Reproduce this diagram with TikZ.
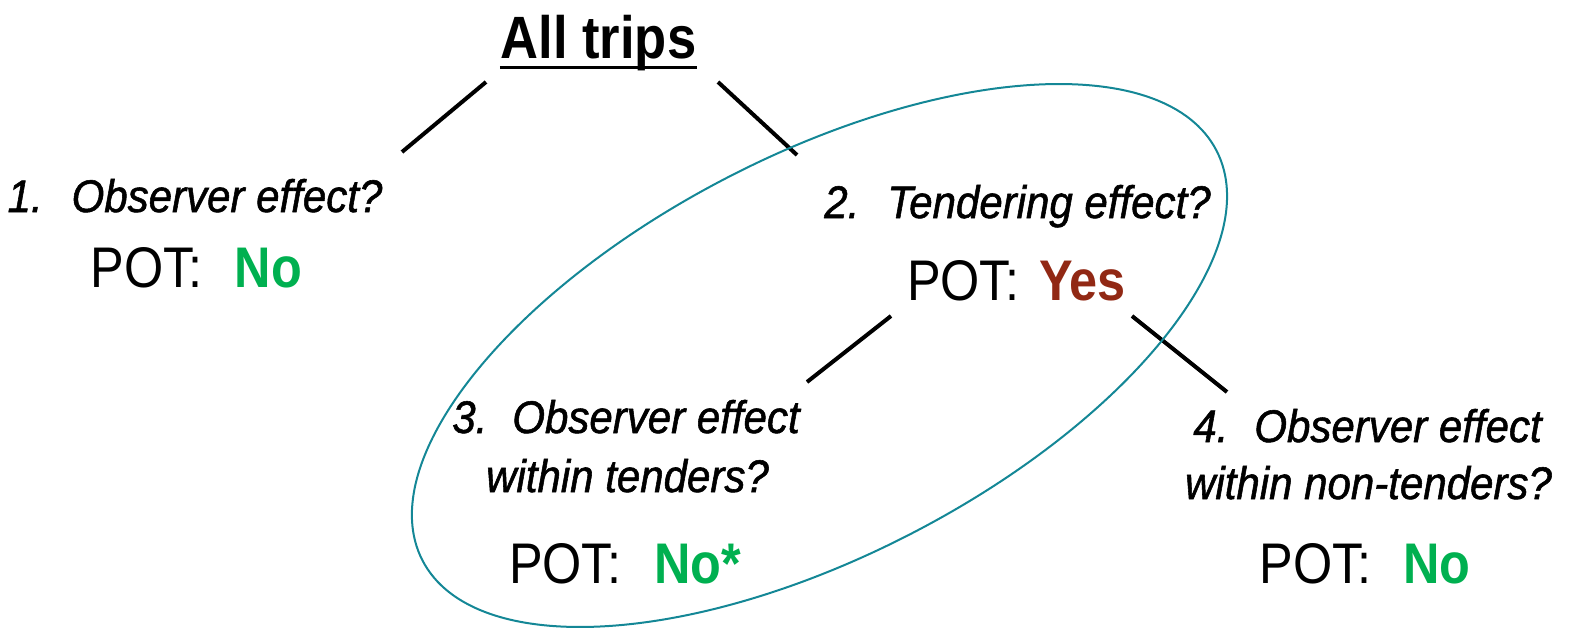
\documentclass[tikz,border=0pt]{standalone}
\usepackage{fontspec}
\setmainfont{Liberation Sans}[FakeStretch=0.88,
  ItalicFeatures={FakeStretch=0.92, FakeBold=1.2}]
\definecolor{okgreen}{RGB}{0,176,80}
\definecolor{yesred}{RGB}{145,40,20}
\definecolor{ringteal}{RGB}{20,135,150}
\begin{document}
\begin{tikzpicture}[x=0.1mm,y=-0.1mm,
  q/.style={inner sep=0, anchor=base, font=\fontsize{13}{15}\selectfont\itshape},
  pot/.style={inner sep=0, anchor=base, font=\fontsize{16.3}{19}\selectfont},
  branch/.style={line width=0.4mm},
  ring/.style={draw=ringteal, line width=0.2mm}]
\useasboundingbox (0,0) rectangle (1569,628);

% title
\node[inner sep=0, anchor=base, font=\fontsize{17}{20}\selectfont\bfseries] (all) at (598.5,58) {All trips};
\draw[line width=0.3mm] ([yshift=-0.9mm]all.base west) -- ([yshift=-0.9mm]all.base east);

% questions and answers
\node[q] (q1) at (195,212) {1.\hspace{2.9mm}Observer effect?};
\node[pot] (p1) at (196.5,287) {POT:\hspace{3.2mm}\textcolor{okgreen}{\bfseries No}};

\node[q] (q2) at (1017.5,218) {2.\hspace{2.8mm}Tendering effect?};
\node[pot] (p2) at (1016.5,300) {POT:\hspace{2mm}\textcolor{yesred}{\bfseries Yes}};

\node[q] (q3a) at (626,433) {3.\hspace{2.5mm}Observer effect};
\node[q] (q3b) at (627.5,492) {within tenders?};
\node[pot] (p3) at (625,583) {POT:\hspace{3.3mm}\textcolor{okgreen}{\bfseries No*}};

\node[q] (q4a) at (1367.5,442) {4.\hspace{2.6mm}Observer effect};
\node[q] (q4b) at (1368.5,499) {within non-tenders?};
\node[pot] (p4) at (1365,583) {POT:\hspace{3.2mm}\textcolor{okgreen}{\bfseries No}};

% branch ends
\coordinate (l1a) at (486,82);  \coordinate (l1b) at (402,152);
\coordinate (l2a) at (718,82);  \coordinate (l2b) at (797,155);
\coordinate (l3a) at (891,316); \coordinate (l3b) at (807,382);
\coordinate (l4a) at (1132,316); \coordinate (l4b) at (1227,392);
\draw[branch] (l1a) -- (l1b);
\draw[branch] (l2a) -- (l2b);
\draw[branch] (l3a) -- (l3b);
\draw[branch] (l4a) -- (l4b);

% ring
\coordinate (rc) at (819.5,355.5);
\draw[ring, rotate around={27.3:(rc)}] (rc) ellipse [x radius=44.68mm, y radius=20.04mm];
\end{tikzpicture}
\end{document}
